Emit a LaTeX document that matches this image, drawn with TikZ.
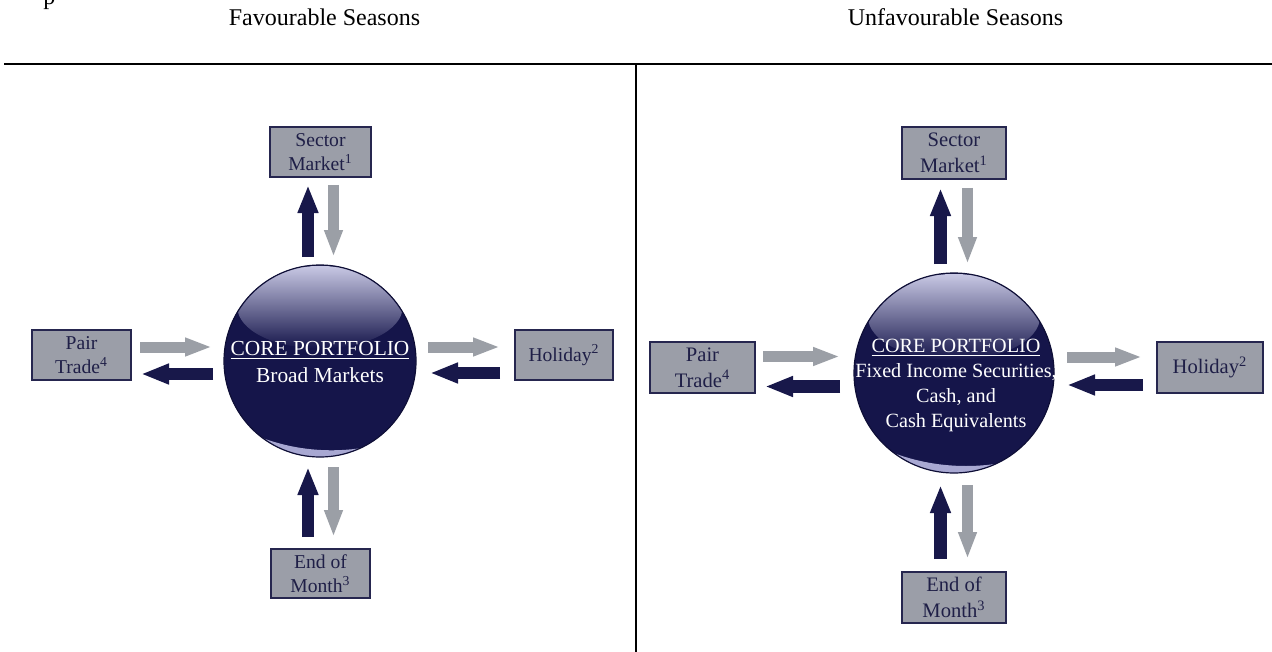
\documentclass[tikz,border=0pt]{standalone}
\usepackage{fontspec}
\setmainfont{Liberation Serif}
\usetikzlibrary{arrows.meta,calc}
\definecolor{navy}{HTML}{18184A}
\definecolor{boxfill}{HTML}{9B9EA8}
\definecolor{boxline}{HTML}{26264F}
\definecolor{boxtext}{HTML}{1F1F47}
\definecolor{arrgray}{HTML}{9B9FA6}
\definecolor{sphere}{HTML}{15154A}
\definecolor{sphererim}{HTML}{0E0E36}
\definecolor{shine}{HTML}{C8C8E4}
\definecolor{midshine}{HTML}{5A5A96}
\definecolor{rimshine}{HTML}{A8A8D2}
\begin{document}
\begin{tikzpicture}[x=0.5pt,y=-0.5pt,
  hdr/.style={font=\fontsize{12}{14}\selectfont, anchor=base, inner sep=0pt},
  boxL/.style={draw=boxline, line width=0.75pt, fill=boxfill, text=boxtext, align=center,
    inner sep=0pt, outer sep=0pt, font=\fontsize{9.8}{12}\selectfont},
  boxR/.style={boxL, font=\fontsize{10.3}{12.8}\selectfont},
  shinyball/.style={circle, draw=sphererim, line width=0.6pt, fill=sphere, inner sep=0pt, outer sep=0pt,
    minimum size=#1pt,
    path picture={
      \coordinate (pc) at (path picture bounding box.center);
      \fill[top color=shine, middle color=midshine, bottom color=sphere]
        ($(pc)+(0,{-0.56*#1})$) ellipse [x radius={0.86*#1}, y radius={0.43*#1}];
      \fill[rimshine, even odd rule] (pc) circle [radius=#1]
        ($(pc)+({0.12*#1},{-1.15*#1})$) circle [radius={2.08*#1}];
    }},
  coretext/.style={text=white, align=center, anchor=base, inner sep=0pt},
  darkarr/.style={draw=navy, line width=6.25pt, -{Triangle[width=9.5pt,length=14pt]}},
  grayarr/.style={draw=arrgray, line width=5.5pt, -{Triangle[width=8.5pt,length=13.5pt]}}
]
\useasboundingbox (0,0) rectangle (1272,652);
\fill[white] (0,0) rectangle (1272,652);

% headers and frame
\node[hdr, anchor=base west] (pfrag) at (43,5) {p};
\node[hdr] (hfav) at (324.5,26) {Favourable Seasons};
\node[hdr] (hunf) at (955.5,26) {Unfavourable Seasons};
\draw[line width=1.35pt] (4,64) -- (1272,64);
\draw[line width=1pt] (636,64) -- (636,652);

% ---------- left panel ----------
\node[shinyball=96] (c1) at (320,361) {};
\node[coretext, font=\fontsize{10.7}{13.5}\selectfont] (t1) at (320,382)
  {\underline{CORE PORTFOLIO}\\Broad Markets};
\node[boxL, minimum width=50.5pt, minimum height=25pt] (sm1) at (320.5,152) {Sector\\Market\textsuperscript{1}};
\node[boxL, minimum width=49.5pt, minimum height=24.5pt] (eom1) at (320.5,573.5) {End of\\Month\textsuperscript{3}};
\node[boxL, minimum width=49.5pt, minimum height=25pt] (pt1) at (81.5,355) {Pair\\Trade\textsuperscript{4}};
\node[boxL, minimum width=49pt, minimum height=25pt] (hol1) at (564,355) {Holiday\textsuperscript{2}};

\draw[darkarr] ($(c1.center)+(-12,-104)$) -- ($(sm1.south)+(-12.5,8)$);
\draw[grayarr] ($(sm1.south)+(13,8)$) -- ($(c1.center)+(13.5,-104)$);
\draw[darkarr] ($(eom1.north)+(-12.5,-12)$) -- ($(c1.center)+(-12,106)$);
\draw[grayarr] ($(c1.center)+(13.5,106)$) -- ($(eom1.north)+(13,-12)$);
\draw[grayarr] ($(pt1.east)+(9,-8)$) -- ($(c1.center)+(-108,-14)$);
\draw[darkarr] ($(c1.center)+(-107,13)$) -- ($(pt1.east)+(10,19)$);
\draw[grayarr] ($(c1.center)+(108,-14)$) -- ($(hol1.west)+(-15,-8)$);
\draw[darkarr] ($(hol1.west)+(-15,18)$) -- ($(c1.center)+(110,12)$);

% ---------- right panel ----------
\node[shinyball=100] (c2) at (954,373) {};
\node[coretext, font=\fontsize{10.1}{12.5}\selectfont] (t2) at (956,427)
  {\underline{CORE PORTFOLIO}\\Fixed Income Securities,\\Cash, and\\Cash Equivalents};
\node[boxR, minimum width=52pt, minimum height=26pt] (sm2) at (954,153) {Sector\\Market\textsuperscript{1}};
\node[boxR, minimum width=52pt, minimum height=25.5pt] (eom2) at (954,597.5) {End of\\Month\textsuperscript{3}};
\node[boxR, minimum width=52.5pt, minimum height=25.5pt] (pt2) at (702.5,367.5) {Pair\\Trade\textsuperscript{4}};
\node[boxR, minimum width=53pt, minimum height=25.5pt] (hol2) at (1210,367.5) {Holiday\textsuperscript{2}};

\draw[darkarr] ($(c2.center)+(-13.5,-109)$) -- ($(sm2.south)+(-13.5,9)$);
\draw[grayarr] ($(sm2.south)+(13.5,9)$) -- ($(c2.center)+(13.5,-109)$);
\draw[darkarr] ($(eom2.north)+(-13.5,-13)$) -- ($(c2.center)+(-13.5,112)$);
\draw[grayarr] ($(c2.center)+(13.5,112)$) -- ($(eom2.north)+(13.5,-13)$);
\draw[grayarr] ($(pt2.east)+(8,-11)$) -- ($(c2.center)+(-114,-16.5)$);
\draw[darkarr] ($(c2.center)+(-114,13.5)$) -- ($(pt2.east)+(10,19)$);
\draw[grayarr] ($(c2.center)+(113,-16)$) -- ($(hol2.west)+(-15,-10.5)$);
\draw[darkarr] ($(hol2.west)+(-14,17.5)$) -- ($(c2.center)+(113,12)$);
\end{tikzpicture}
\end{document}
